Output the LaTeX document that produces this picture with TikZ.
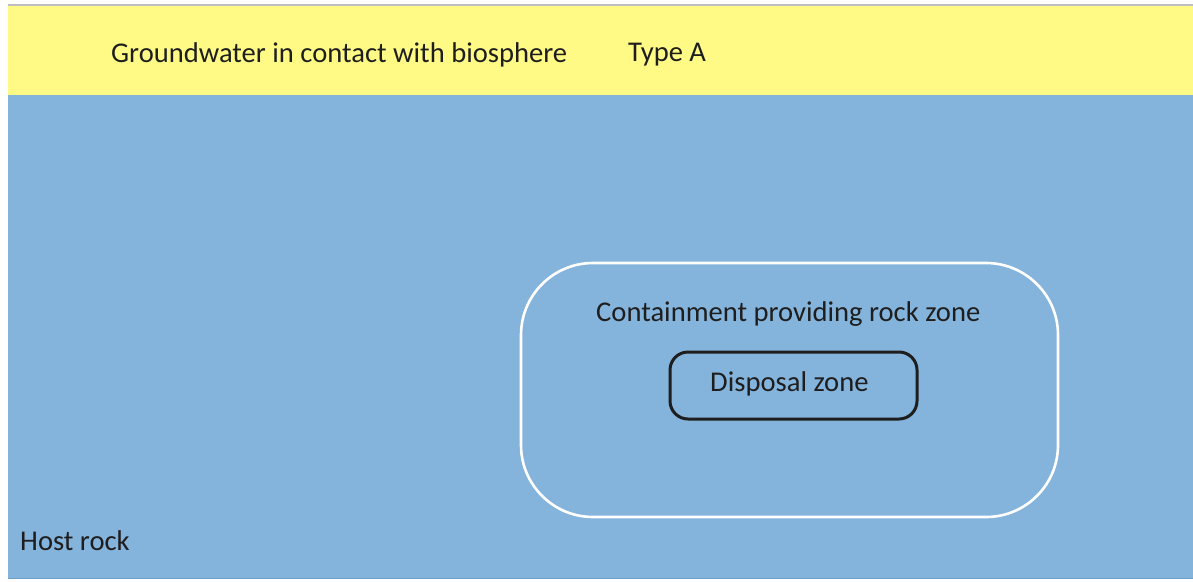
\documentclass[tikz,border=0pt]{standalone}
\usepackage{fontspec}
\setmainfont{Carlito}
\definecolor{bandyellow}{RGB}{255,250,133}
\definecolor{rockblue}{RGB}{132,179,220}
\definecolor{edgeblue}{RGB}{110,160,205}
\definecolor{topgray}{RGB}{190,190,190}
\definecolor{inkdark}{RGB}{30,30,30}
\tikzset{
  label text/.style={inner sep=0pt, anchor=west, text=inkdark, font=\fontsize{28.6}{34}\selectfont},
  zone outer/.style={draw=white, line width=2.6pt, rounded corners=72pt},
  zone inner/.style={draw=inkdark, line width=3pt, rounded corners=18pt},
}
\begin{document}
\begin{tikzpicture}[x=1pt,y=-1pt]
  \useasboundingbox (0,0) rectangle (1193,581);
  \fill[white] (0,0) rectangle (1193,581);
  % layers
  \fill[rockblue] (8,95) rectangle (1193,579);
  \draw[edgeblue, line width=1.5pt] (8,578.5) -- (1193,578.5);
  \fill[bandyellow] (8,6) rectangle (1193,95);
  \draw[topgray, line width=2.5pt] (8,5) -- (1193,5);
  % zones
  \draw[zone outer] (521,263) rectangle (1058,517);
  \draw[zone inner] (670,352) rectangle (917,419);
  % labels
  \node[label text] (gw) at (111,55) {Groundwater in contact with biosphere};
  \node[label text] (typ) at (628,55) {Type A};
  \node[label text] (crz) at (596,314) {Containment providing rock zone};
  \node[label text] (dz) at (710,384) {Disposal zone};
  \node[label text] (hr) at (20,541) {Host rock};
\end{tikzpicture}
\end{document}
